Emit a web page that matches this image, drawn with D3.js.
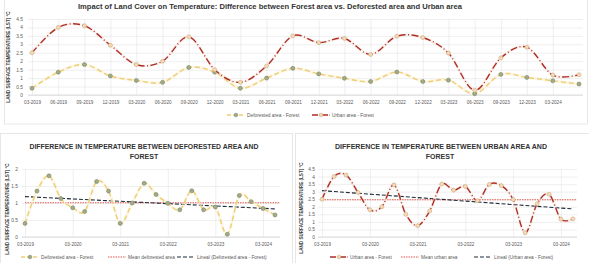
<!DOCTYPE html>
<html>
<head>
    <meta charset="utf-8">
    <title>Impact of Land Cover on Temperature</title>
    <script type="text/javascript" src="https://d3js.org/d3.v7.min.js"></script>
</head>
<body style="margin:0;background:#fff;">

<style>
svg text { font-family: "Liberation Sans", Arial, sans-serif; fill: #595959; }
.grid line { stroke: #e4e4e4; stroke-width: 0.6; }
.grid path { display: none; }
.axis path, .axis line { display: none; }
.frame { fill: none; stroke: #e2e2e2; stroke-width: 0.8; }
.title { font-weight: bold; fill: #333; }
.ytitle { font-weight: bold; fill: #404040; font-size: 4.6px; }
.line_def { fill: none; stroke: #efcd72; stroke-width: 1.4; stroke-dasharray: 5,3; }
.halo_def { fill: none; stroke: #fbf0d2; stroke-width: 3; opacity: 0.5; }
.line_urb { fill: none; stroke: #b02d28; stroke-width: 1.4; stroke-dasharray: 7,2.5,1,2.5; }
.halo_urb { fill: none; stroke: #f6e3d4; stroke-width: 3; opacity: 0.4; }
.dot_def { fill: #a2ac8a; stroke: #77845f; stroke-width: 0.6; }
.dot_urb { fill: #f1dbb8; stroke: #cfa77c; stroke-width: 0.6; }
.mean { stroke: #e0574c; stroke-width: 1; stroke-dasharray: 1.5,1; }
.trend { stroke: #1e2a3a; stroke-width: 1.1; stroke-dasharray: 4,2; }
.legend text { font-size: 4.8px; }
</style>

<script type="text/javascript">
    // quarterly observations
    var dates = ["03-2019","06-2019","09-2019","12-2019","03-2020","06-2020","09-2020","12-2020",
                 "03-2021","06-2021","09-2021","12-2021","03-2022","06-2022","09-2022","12-2022",
                 "03-2023","06-2023","09-2023","12-2023","03-2024","06-2024"];

    var deforested = [0.4, 1.35, 1.8, 1.13, 0.86, 0.75, 1.63, 1.35, 0.4, 1.0, 1.58, 1.25,
                      0.99, 0.8, 1.36, 0.8, 0.88, 0.08, 1.22, 1.04, 0.84, 0.65];

    var urban = [2.5, 4.0, 4.1, 2.95, 1.8, 2.0, 3.45, 1.5, 0.75, 1.72, 3.5, 3.1,
                 3.35, 2.4, 3.48, 3.4, 2.48, 0.28, 2.2, 2.83, 1.18, 1.2];

    var topXTicks = ["03-2019","06-2019","09-2019","12-2019","03-2020","06-2020","09-2020","12-2020",
                     "03-2021","06-2021","09-2021","12-2021","03-2022","06-2022","09-2022","12-2022",
                     "03-2023","06-2023","09-2023","12-2023","03-2024"];
    var yearXTicks = ["03-2019","03-2020","03-2021","03-2022","03-2023","03-2024"];
    var ticks45 = [0, 0.5, 1, 1.5, 2, 2.5, 3, 3.5, 4, 4.5];
    var ticks2 = [0, 0.5, 1, 1.5, 2];

    var parse = d3.timeParse("%m-%Y");
    var W = 589, H = 263;

    var svg = d3.select("body").append("svg")
        .attr("width", W).attr("height", H);

    // panel frames
    svg.append("rect").attr("class", "frame").attr("x", 4.5).attr("y", -1).attr("width", 583).attr("height", 125);
    svg.append("rect").attr("class", "frame").attr("x", 0.5).attr("y", 133.5).attr("width", 292).attr("height", 131);
    svg.append("rect").attr("class", "frame").attr("x", 295.5).attr("y", 133.5).attr("width", 294).attr("height", 131);

    function trendOf(v){
        var n = v.length, mx = (n - 1) / 2, my = d3.mean(v), sxy = 0, sxx = 0;
        v.forEach(function(d, i){ sxy += (i - mx) * (d - my); sxx += (i - mx) * (i - mx); });
        var b = sxy / sxx, a = my - b * mx;
        return [a, a + b * (n - 1)];
    }

    function drawPanel(cfg){
        var g = svg.append("g");
        var x = d3.scaleTime()
            .domain([parse(dates[0]), parse(dates[dates.length - 1])])
            .range(cfg.xr);
        var y = d3.scaleLinear().domain(cfg.yd).range(cfg.yr);
        var xTickDates = cfg.xticks.map(parse);

        // grid
        g.append("g").attr("class", "grid")
            .attr("transform", "translate(" + cfg.gx[0] + ",0)")
            .call(d3.axisLeft(y.copy()).tickValues(cfg.yticks)
                .tickSize(-(cfg.gx[1] - cfg.gx[0])).tickFormat(""));
        g.append("g").attr("class", "grid")
            .attr("transform", "translate(0," + cfg.yr[0] + ")")
            .call(d3.axisBottom(x).tickValues(xTickDates)
                .tickSize(-(cfg.yr[0] - cfg.yr[1])).tickFormat(""));
        g.append("line").attr("x1", cfg.gx[0]).attr("x2", cfg.gx[1])
            .attr("y1", cfg.yr[0]).attr("y2", cfg.yr[0])
            .attr("stroke", "#d0d0d0").attr("stroke-width", 0.7);

        // axes
        g.append("g").attr("class", "axis")
            .attr("transform", "translate(" + cfg.ylx + ",0)")
            .call(d3.axisLeft(y).tickValues(cfg.yticks).tickSize(0).tickPadding(0)
                .tickFormat(function(d){ return String(d); }))
            .selectAll("text").style("font-size", "4.8px");
        g.append("g").attr("class", "axis")
            .attr("transform", "translate(0," + cfg.yr[0] + ")")
            .call(d3.axisBottom(x).tickValues(xTickDates).tickSize(0).tickPadding(cfg.xpad)
                .tickFormat(d3.timeFormat("%m-%Y")))
            .selectAll("text").style("font-size", "4.6px");

        // mean and linear trend
        if (cfg.extras){
            var m = d3.mean(cfg.values);
            g.append("line").attr("class", "mean")
                .attr("x1", x(parse(dates[0]))).attr("x2", cfg.gx[1])
                .attr("y1", y(m)).attr("y2", y(m));
            var t = trendOf(cfg.values);
            g.append("line").attr("class", "trend")
                .attr("x1", x(parse(dates[0]))).attr("x2", x(parse(dates[dates.length - 1])))
                .attr("y1", y(t[0])).attr("y2", y(t[1]));
        }

        // series
        cfg.series.forEach(function(s){
            var line = d3.line()
                .curve(d3.curveCardinal.tension(0))
                .x(function(d, i){ return x(parse(dates[i])); })
                .y(function(d){ return y(d); });
            g.append("path").attr("class", s.halo).attr("d", line(s.values));
            g.append("path").attr("class", s.cls).attr("d", line(s.values));
            g.selectAll("circle." + s.dot).data(s.values).enter()
                .append("circle").attr("class", s.dot)
                .attr("cx", function(d, i){ return x(parse(dates[i])); })
                .attr("cy", function(d){ return y(d); })
                .attr("r", 2);
        });

        // y-axis title
        g.append("text").attr("class", "ytitle")
            .attr("transform", "translate(" + cfg.ytx + "," + cfg.yty + ") rotate(-90)")
            .attr("text-anchor", "middle")
            .text("LAND SURFACE TEMPERATURE (LST) °C");
    }

    function legendItem(lx, ly, kind, label){
        var g = svg.append("g").attr("class", "legend");
        if (kind === "def" || kind === "urb"){
            g.append("line").attr("class", kind === "def" ? "line_def" : "line_urb")
                .attr("x1", lx).attr("x2", lx + 18).attr("y1", ly).attr("y2", ly)
                .style("stroke-dasharray", kind === "def" ? "4,2" : "6,1.5,1,1.5");
            g.append("circle").attr("class", kind === "def" ? "dot_def" : "dot_urb")
                .attr("cx", lx + 9).attr("cy", ly).attr("r", 1.8);
        } else {
            g.append("line").attr("class", kind)
                .attr("x1", lx).attr("x2", lx + 18).attr("y1", ly).attr("y2", ly);
        }
        g.append("text").attr("x", lx + 20).attr("y", ly + 1.7).text(label);
    }

    // top chart
    svg.append("text").attr("class", "title")
        .attr("x", 270).attr("y", 8.5).attr("text-anchor", "middle")
        .style("font-size", "8px")
        .attr("textLength", 384).attr("lengthAdjust", "spacingAndGlyphs")
        .text("Impact of Land Cover on Temperature: Difference between Forest area vs. Deforested area and  Urban area");

    drawPanel({
        xr: [32, 579], yd: [0, 4.5], yr: [95, 19], gx: [28, 583],
        yticks: ticks45, xticks: topXTicks, ylx: 23, xpad: 6,
        ytx: 9.5, yty: 57,
        series: [
            {values: deforested, cls: "line_def", halo: "halo_def", dot: "dot_def"},
            {values: urban, cls: "line_urb", halo: "halo_urb", dot: "dot_urb"}
        ]
    });
    legendItem(227, 115, "def", "Deforested area - Forest");
    legendItem(312, 115, "urb", "Urban area - Forest");

    // bottom left
    svg.append("text").attr("class", "title")
        .attr("x", 144).attr("y", 148.5).attr("text-anchor", "middle")
        .style("font-size", "7px")
        .attr("textLength", 229).attr("lengthAdjust", "spacingAndGlyphs")
        .text("DIFFERENCE IN TEMPERATURE BETWEEN DEFORESTED AREA AND");
    svg.append("text").attr("class", "title")
        .attr("x", 144).attr("y", 158.5).attr("text-anchor", "middle")
        .style("font-size", "7px")
        .text("FOREST");

    drawPanel({
        xr: [25, 275], yd: [0, 2], yr: [237, 169], gx: [22, 280],
        yticks: ticks2, xticks: yearXTicks, ylx: 18, xpad: 6,
        ytx: 9, yty: 209, extras: true, values: deforested,
        series: [
            {values: deforested, cls: "line_def", halo: "halo_def", dot: "dot_def"}
        ]
    });
    legendItem(21, 257, "def", "Deforested area - Forest");
    legendItem(108, 257, "mean", "Mean deforested area");
    legendItem(177, 257, "trend", "Lineal (Deforested area - Forest)");

    // bottom right
    svg.append("text").attr("class", "title")
        .attr("x", 441).attr("y", 148.5).attr("text-anchor", "middle")
        .style("font-size", "7px")
        .attr("textLength", 212).attr("lengthAdjust", "spacingAndGlyphs")
        .text("DIFFERENCE IN TEMPERATURE BETWEEN URBAN AREA AND");
    svg.append("text").attr("class", "title")
        .attr("x", 440).attr("y", 158.5).attr("text-anchor", "middle")
        .style("font-size", "7px")
        .text("FOREST");

    drawPanel({
        xr: [322, 573], yd: [0, 4.5], yr: [237, 169], gx: [318, 577],
        yticks: ticks45, xticks: yearXTicks, ylx: 315, xpad: 6,
        ytx: 303, yty: 208, extras: true, values: urban,
        series: [
            {values: urban, cls: "line_urb", halo: "halo_urb", dot: "dot_urb"}
        ]
    });
    legendItem(330, 257, "urb", "Urban area - Forest");
    legendItem(401, 257, "mean", "Mean urban area");
    legendItem(474, 257, "trend", "Lineal (Urban area - Forest)");
</script>

</body>
</html>
